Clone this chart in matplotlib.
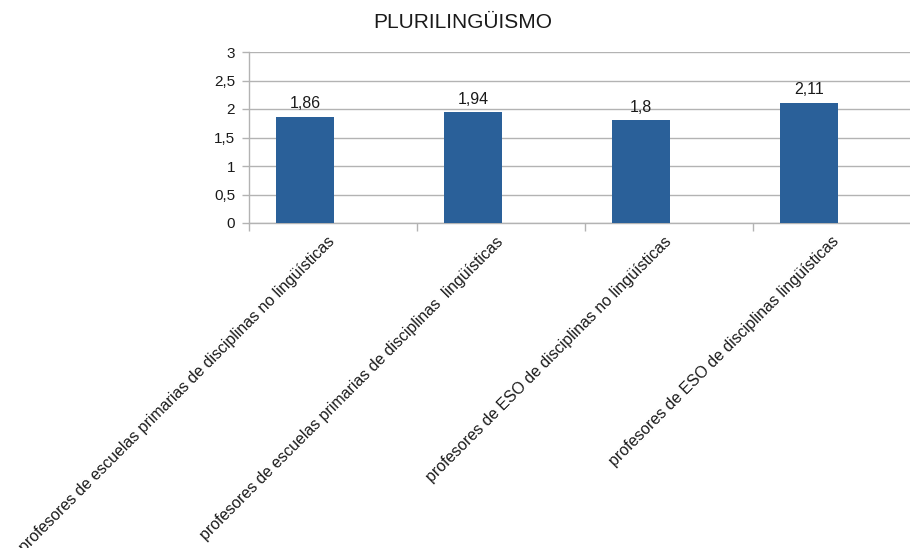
import matplotlib
matplotlib.use("Agg")
import matplotlib.pyplot as plt
import matplotlib.transforms as mtransforms
import numpy as np

categories = [
    "profesores de escuelas primarias de disciplinas no lingüísticas",
    "profesores de escuelas primarias de disciplinas  lingüísticas",
    "profesores de ESO de disciplinas no lingüísticas",
    "profesores de ESO de disciplinas lingüísticas",
]
values = [1.86, 1.94, 1.8, 2.11]
value_labels = ["1,86", "1,94", "1,8", "2,11"]
yticks = [0, 0.5, 1, 1.5, 2, 2.5, 3]
ytick_labels = ["0", "0,5", "1", "1,5", "2", "2,5", "3"]
title = "PLURILINGÜISMO"

plt.rcParams['font.family'] = ['Liberation Sans', 'DejaVu Sans']

W, H = 910, 548
fig = plt.figure(figsize=(W / 100, H / 100), dpi=100)
ax = fig.add_axes([249 / W, (H - 223) / H, 672 / W, 171 / H])

n = len(categories)
x = np.arange(n)
xb = x - 1 / 6  # bars sit left of category centre
ax.bar(xb, values, width=0.34, color="#2a6099", zorder=3)
for xi, v, lab in zip(xb, values, value_labels):
    ax.annotate(lab, (xi, v), xytext=(0, 4), textcoords="offset points",
                ha="center", va="bottom", fontsize=11.5, color="#1a1a1a")

ax.set_xlim(-0.5, n - 0.5)
ax.set_ylim(0, 3)
ax.set_yticks(yticks)
ax.set_yticklabels(ytick_labels, fontsize=11, color="#1a1a1a")
ax.yaxis.grid(True, color="#b3b3b3", linewidth=1, zorder=0)
ax.set_axisbelow(True)

ax.set_xticks(np.arange(n + 1) - 0.5)
ax.set_xticklabels([])
ax.tick_params(axis="x", length=6, color="#b3b3b3", width=1)
ax.tick_params(axis="y", length=5, color="#b3b3b3", width=1, pad=5)

for s in ["top", "right"]:
    ax.spines[s].set_visible(False)
for s in ["left", "bottom"]:
    ax.spines[s].set_color("#b3b3b3")
    ax.spines[s].set_linewidth(1)

offset = mtransforms.ScaledTranslation(33 / 100, -11 / 100, fig.dpi_scale_trans)
for xi, cat in zip(xb, categories):
    ax.text(xi, 0, cat, rotation=45, ha="right", va="top", fontsize=11.4,
            color="#1a1a1a", transform=ax.get_xaxis_transform() + offset,
            rotation_mode="default")

fig.text(463 / W, 1 - 22 / H, title, ha="center", va="center", fontsize=15, color="#1a1a1a")

fig.savefig("out.png", dpi=100)
